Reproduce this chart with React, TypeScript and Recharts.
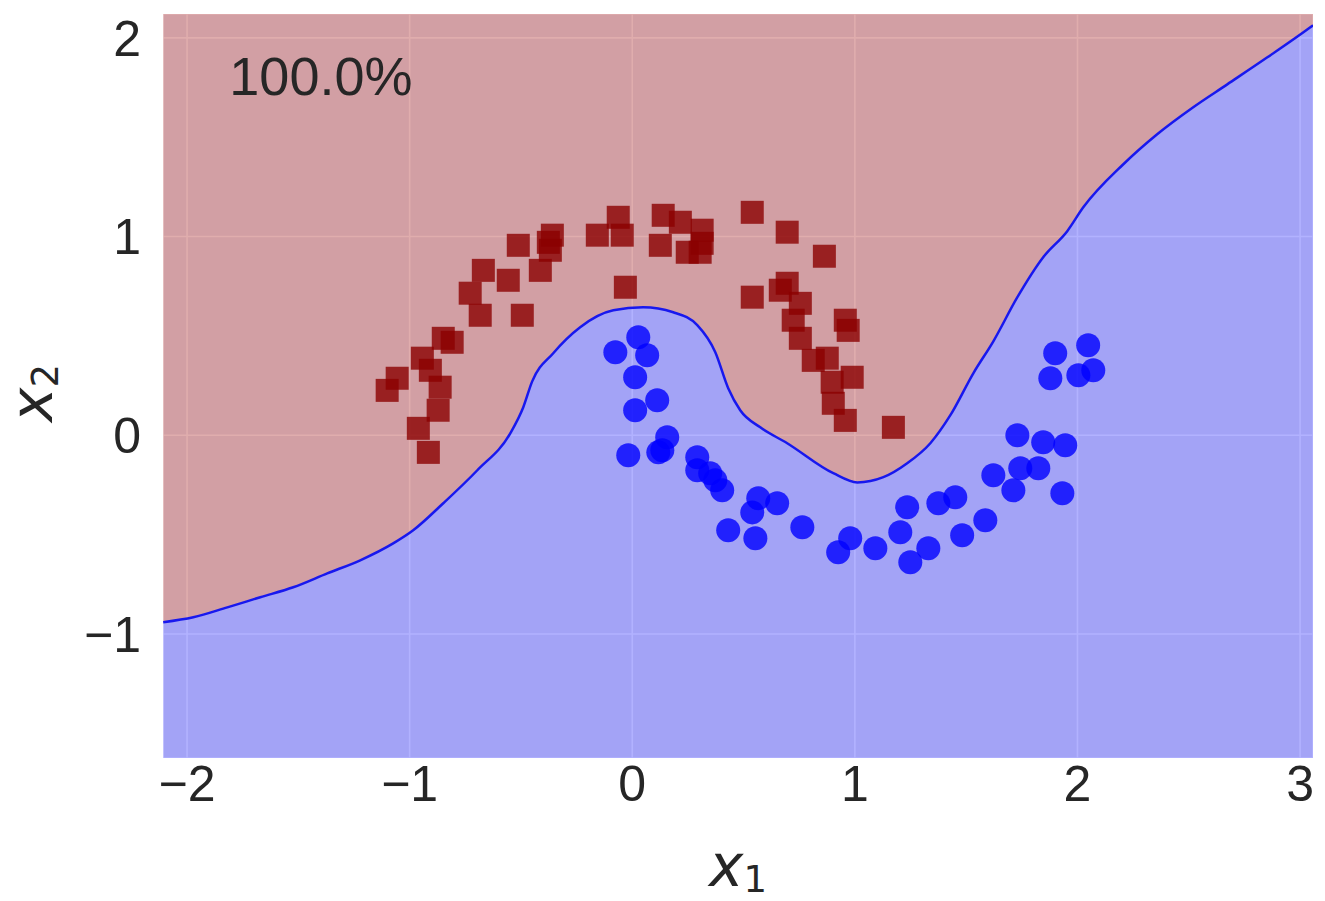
import { ComposedChart, Area, Scatter, XAxis, YAxis, CartesianGrid, ReferenceDot } from "recharts";

const xTicks = [-2, -1, 0, 1, 2, 3];
const yTicks = [-1, 0, 1, 2];

// decision boundary, [x1, x2] pairs
const boundary: [number, number][] = [
  [-2.107, -0.941], [-1.972, -0.916], [-1.819, -0.866], [-1.671, -0.815], [-1.523, -0.765],
  [-1.37, -0.695], [-1.222, -0.629], [-1.074, -0.544], [-0.984, -0.478], [-0.849, -0.342],
  [-0.696, -0.176], [-0.548, 0.01], [-0.49, 0.14], [-0.45, 0.27], [-0.355, 0.413],
  [-0.234, 0.544], [-0.085, 0.629], [0.049, 0.644], [0.184, 0.619], [0.292, 0.554],
  [0.373, 0.418], [0.431, 0.237], [0.485, 0.126], [0.575, 0.04], [0.696, -0.04],
  [0.903, -0.191], [1.011, -0.237], [1.128, -0.211], [1.235, -0.141], [1.339, -0.04],
  [1.429, 0.101], [1.532, 0.312], [1.622, 0.473], [1.73, 0.695], [1.846, 0.896],
  [1.954, 1.027], [2.026, 1.147], [2.206, 1.364], [2.358, 1.515], [2.52, 1.651],
  [2.673, 1.766], [2.853, 1.902], [3.046, 2.053], [3.058, 2.063],
];

// class 0 (squares)
const squares: [number, number][] = [
  [-1.101, 0.226], [-1.056, 0.287], [-0.943, 0.388], [-0.907, 0.327], [-0.863, 0.242],
  [-0.872, 0.126], [-0.961, 0.035], [-0.916, -0.086], [-0.849, 0.488], [-0.809, 0.468],
  [-0.728, 0.715], [-0.669, 0.83], [-0.557, 0.78], [-0.683, 0.604], [-0.494, 0.604],
  [-0.512, 0.956], [-0.413, 0.83], [-0.359, 1.007], [-0.368, 0.931], [-0.377, 0.971],
  [-0.157, 1.007], [-0.063, 1.097], [-0.045, 1.007], [-0.031, 0.745], [0.139, 1.107],
  [0.216, 1.072], [0.314, 1.032], [0.314, 0.966], [0.126, 0.956], [0.247, 0.921],
  [0.305, 0.921], [0.539, 1.122], [0.696, 1.022], [0.863, 0.901], [0.539, 0.695],
  [0.665, 0.73], [0.696, 0.765], [0.755, 0.664], [0.723, 0.579], [0.957, 0.579],
  [0.97, 0.528], [0.755, 0.488], [0.813, 0.377], [0.876, 0.388], [0.988, 0.292],
  [0.898, 0.267], [0.903, 0.161], [0.957, 0.075], [1.173, 0.04],
];

// class 1 (circles)
const circles: [number, number][] = [
  [0.027, 0.493], [-0.076, 0.418], [0.067, 0.403], [0.013, 0.292], [0.013, 0.126],
  [0.112, 0.176], [-0.018, -0.101], [0.157, -0.01], [0.117, -0.086], [0.135, -0.075],
  [0.292, -0.111], [0.292, -0.176], [0.35, -0.191], [0.373, -0.226], [0.404, -0.277],
  [0.566, -0.317], [0.539, -0.388], [0.651, -0.342], [0.431, -0.478], [0.553, -0.518],
  [0.764, -0.463], [0.979, -0.518], [0.925, -0.589], [1.092, -0.569], [1.235, -0.362],
  [1.204, -0.488], [1.33, -0.569], [1.249, -0.639], [1.375, -0.342], [1.451, -0.312],
  [1.482, -0.503], [1.586, -0.428], [1.622, -0.201], [1.712, -0.277], [1.743, -0.166],
  [1.824, -0.166], [1.73, 0.0], [1.846, -0.035], [1.945, -0.05], [1.932, -0.292],
  [1.9, 0.413], [2.048, 0.453], [1.878, 0.287], [2.004, 0.302], [2.071, 0.327],
];

const accuracyText = "100.0%";

const boundaryData = boundary.map(([x, y]) => ({ x, y }));
const squareData = squares.map(([x, y]) => ({ x, y }));
const circleData = circles.map(([x, y]) => ({ x, y }));

const textColor = "#262626";
const tickFont = "'Liberation Sans', Arial, sans-serif";
const mathFont = "'DejaVu Sans', sans-serif";

const fmt = (v: number) => String(v).replace("-", "\u2212");

function Square(props: any) {
  const { cx, cy } = props;
  return <rect x={cx - 11.5} y={cy - 11.5} width={23} height={23} fill="#8b0000" fillOpacity={0.8} />;
}

function Dot(props: any) {
  const { cx, cy } = props;
  return <circle cx={cx} cy={cy} r={12} fill="#0000ff" fillOpacity={0.8} />;
}

function XLabel({ viewBox }: any) {
  const { x, y, width } = viewBox;
  return (
    <text x={x + width / 2} y={y + 128} textAnchor="middle" fontFamily={mathFont} fontStyle="italic" fontSize={58} fill={textColor}>
      x
      <tspan fontStyle="normal" fontSize={37} dy={6}>1</tspan>
    </text>
  );
}

function YLabel({ viewBox }: any) {
  const { x, y, height } = viewBox;
  const cx = x + 44;
  const cy = y + height / 2 + 7;
  return (
    <text x={cx} y={cy} transform={`rotate(-90, ${cx}, ${cy})`} textAnchor="middle" fontFamily={mathFont} fontStyle="italic" fontSize={58} fill={textColor}>
      x
      <tspan fontStyle="normal" fontSize={37} dy={6}>2</tspan>
    </text>
  );
}

export default function App() {
  return (
    <ComposedChart width={1317} height={893} data={boundaryData} margin={{ top: 6, right: 12, bottom: 0, left: 0 }}>
      <CartesianGrid fill="#EAEAF2" stroke="#ffffff" strokeWidth={1.6} />
      <XAxis
        type="number"
        dataKey="x"
        domain={[-2.108, 3.058]}
        allowDataOverflow
        ticks={xTicks}
        interval={0}
        tickFormatter={fmt}
        height={143}
        axisLine={false}
        tickLine={false}
        tickSize={0}
        tickMargin={7}
        tick={{ fontSize: 50, fill: textColor, fontFamily: tickFont }}
        label={(props: any) => <XLabel {...props} />}
      />
      <YAxis
        type="number"
        dataKey="y"
        domain={[-1.624, 2.12]}
        allowDataOverflow
        ticks={yTicks}
        interval={0}
        tickFormatter={fmt}
        width={155}
        axisLine={false}
        tickLine={false}
        tickSize={0}
        tickMargin={22}
        tick={{ fontSize: 50, fill: textColor, fontFamily: tickFont }}
        label={(props: any) => <YLabel {...props} />}
      />
      <Area
        type="monotone"
        dataKey="y"
        baseValue="dataMax"
        fill="#a00000"
        fillOpacity={0.32}
        stroke="none"
        isAnimationActive={false}
      />
      <Area
        type="monotone"
        dataKey="y"
        baseValue="dataMin"
        fill="#0000ff"
        fillOpacity={0.3}
        stroke="#1818ee"
        strokeWidth={2.5}
        isAnimationActive={false}
      />
      <Scatter data={squareData} shape={<Square />} isAnimationActive={false} />
      <Scatter data={circleData} shape={<Dot />} isAnimationActive={false} />
      <ReferenceDot
        x={-1.81}
        y={1.807}
        r={0}
        fill="none"
        stroke="none"
        label={{ value: accuracyText, position: "right", offset: 0, fontSize: 54, fill: textColor, fontFamily: tickFont }}
      />
    </ComposedChart>
  );
}
